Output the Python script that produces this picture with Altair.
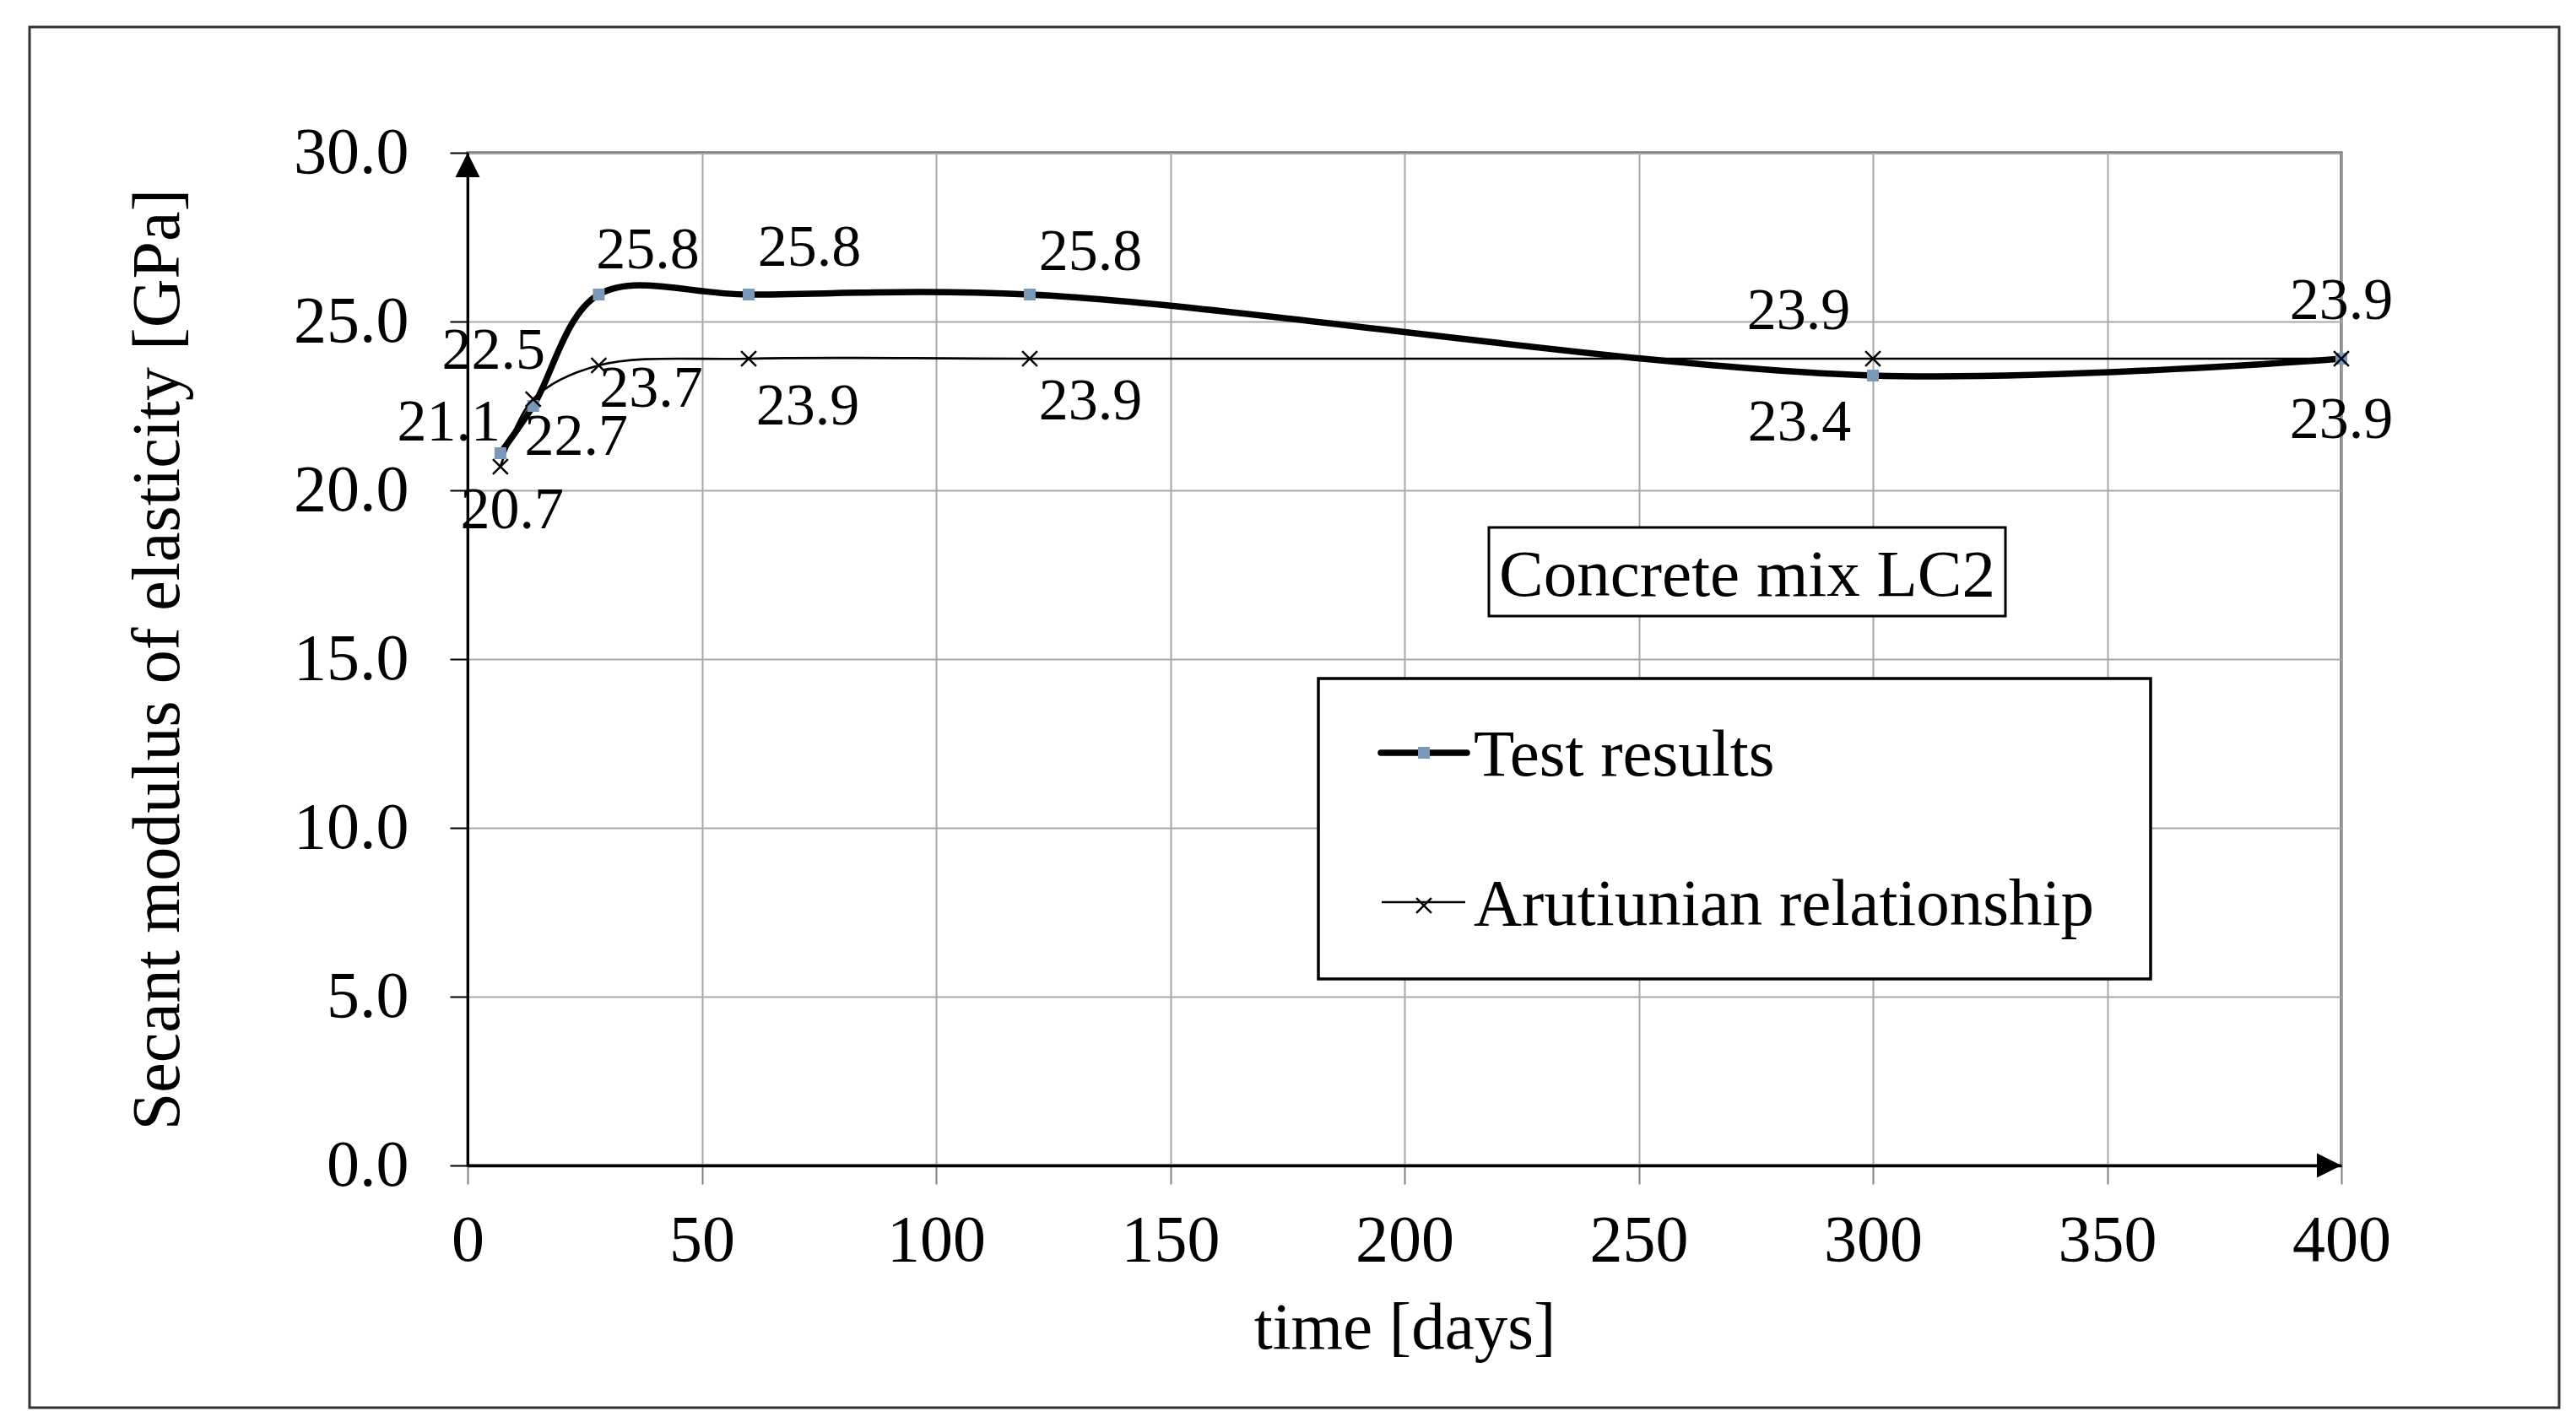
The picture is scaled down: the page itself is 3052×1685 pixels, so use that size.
import altair as alt
import pandas as pd

# ---------------- data ----------------
DAYS = [7, 14, 28, 60, 120, 300, 400]
TEST_RESULTS = [21.1, 22.5, 25.8, 25.8, 25.8, 23.4, 23.9]
ARUTIUNIAN = [20.7, 22.7, 23.7, 23.9, 23.9, 23.9, 23.9]
X_TICKS = [0, 50, 100, 150, 200, 250, 300, 350, 400]
Y_TICKS = [0, 5, 10, 15, 20, 25, 30]
SERIES_NAMES = ["Test results", "Arutiunian relationship"]
X_TITLE = "time [days]"
Y_TITLE = "Secant modulus of elasticity [GPa]"
ANNOTATION = "Concrete mix LC2"

# ---------------- style ----------------
FONT = "Liberation Serif"
W, H = 2220, 1200
STEEL = "#7b98b8"
GRID = "#a8a8a8"
# data-label offsets (dx, dy) in pixels, one per point
TEST_LABEL_OFFSETS = [(-61, -36), (-47, -65), (58, -52), (72, -55), (72, -50), (-87, 56), (0, -68)]
ARUT_LABEL_OFFSETS = [(14, 52), (51, 45), (62, 28), (70, 57), (72, 51), (-88, -56), (0, 73)]

test_df = pd.DataFrame({"day": DAYS, "value": TEST_RESULTS, "idx": list(range(len(DAYS)))})
arut_df = pd.DataFrame({"day": DAYS, "value": ARUTIUNIAN, "idx": list(range(len(DAYS)))})
up_arrow_df = pd.DataFrame({"day": [X_TICKS[0]], "value": [Y_TICKS[-1]]})
right_arrow_df = pd.DataFrame({"day": [X_TICKS[-1]], "value": [Y_TICKS[0]]})
one = pd.DataFrame({"k": [0]})

x_enc = alt.X(
    "day:Q",
    scale=alt.Scale(domain=[X_TICKS[0], X_TICKS[-1]], nice=False, zero=False),
    axis=alt.Axis(
        values=X_TICKS, format="d", title=X_TITLE,
        labelFont=FONT, labelFontSize=78, labelColor="black", labelPadding=28,
        labelFlush=False, labelOverlap=False,
        domainColor="black", domainWidth=3.5,
        tickColor="#808080", tickSize=22, tickWidth=2,
        grid=True, gridColor=GRID, gridWidth=2,
        titleFont=FONT, titleFontSize=79, titleFontWeight="normal", titleColor="black",
        titleX=1110, titleY=216, titleBaseline="alphabetic", titleAlign="center",
    ),
)
y_enc = alt.Y(
    "value:Q",
    scale=alt.Scale(domain=[Y_TICKS[0], Y_TICKS[-1]], nice=False, zero=False),
    axis=alt.Axis(
        values=Y_TICKS, format=".1f", title=Y_TITLE,
        labelFont=FONT, labelFontSize=78, labelColor="black", labelPadding=49,
        labelFlush=False, labelOverlap=False,
        domainColor="black", domainWidth=3,
        tickColor="black", tickSize=21, tickWidth=2,
        grid=True, gridColor=GRID, gridWidth=2,
        titleFont=FONT, titleFontSize=80, titleFontWeight="normal", titleColor="black",
        titleX=-343, titleY=600, titleAngle=270, titleBaseline="alphabetic", titleAlign="center",
    ),
)

layers = []

# outer frame
layers.append(
    alt.Chart(one).mark_rect(fillOpacity=0, stroke="#333333", strokeWidth=3).encode(
        x=alt.value(-519), x2=alt.value(2478), y=alt.value(-149), y2=alt.value(1487)
    )
)

# lines
layers.append(
    alt.Chart(arut_df).mark_line(interpolate="catmull-rom", color="black", strokeWidth=2.7).encode(x=x_enc, y=y_enc)
)
layers.append(
    alt.Chart(test_df).mark_line(interpolate="catmull-rom", color="black", strokeWidth=7.5).encode(x=x_enc, y=y_enc)
)
# markers
layers.append(
    alt.Chart(test_df).mark_point(shape="square", filled=True, size=196, color=STEEL, opacity=1, strokeWidth=0)
    .encode(x=x_enc, y=y_enc)
)
layers.append(
    alt.Chart(arut_df).mark_point(shape="M-1,-1L1,1M-1,1L1,-1", filled=False, size=320, color="black",
                                  opacity=1, strokeWidth=2.5)
    .encode(x=x_enc, y=y_enc)
)

# axis arrowheads
layers.append(
    alt.Chart(up_arrow_df).mark_point(shape="M0,0L-0.5,1L0.5,1Z", filled=True, size=3364, color="black",
                                      opacity=1, strokeWidth=0)
    .encode(x=x_enc, y=y_enc)
)
layers.append(
    alt.Chart(right_arrow_df).mark_point(shape="M0,0L-1,-0.5L-1,0.5Z", filled=True, size=3364, color="black",
                                         opacity=1, strokeWidth=0)
    .encode(x=x_enc, y=y_enc)
)

# data labels
for df, offsets in ((test_df, TEST_LABEL_OFFSETS), (arut_df, ARUT_LABEL_OFFSETS)):
    for i, (dx, dy) in enumerate(offsets):
        layers.append(
            alt.Chart(df).transform_filter(alt.datum.idx == i)
            .mark_text(font=FONT, fontSize=70, color="black", align="center", baseline="middle", dx=dx, dy=dy)
            .encode(x=x_enc, y=y_enc, text=alt.Text("value:Q", format=".1f"))
        )

# annotation box
layers.append(
    alt.Chart(one).mark_rect(fill="white", stroke="black", strokeWidth=3).encode(
        x=alt.value(1210), x2=alt.value(1822), y=alt.value(444), y2=alt.value(549)
    )
)
layers.append(
    alt.Chart(one).mark_text(text=ANNOTATION, font=FONT, fontSize=79, color="black",
                             align="center", baseline="alphabetic")
    .encode(x=alt.value(1516), y=alt.value(525))
)

# legend
layers.append(
    alt.Chart(one).mark_rect(fill="white", stroke="black", strokeWidth=3.5).encode(
        x=alt.value(1008), x2=alt.value(1994), y=alt.value(623), y2=alt.value(979)
    )
)
layers.append(
    alt.Chart(one).mark_rule(color="black", strokeWidth=7.5, strokeCap="round").encode(
        x=alt.value(1082), x2=alt.value(1184), y=alt.value(711)
    )
)
layers.append(
    alt.Chart(one).mark_point(shape="square", filled=True, size=196, color=STEEL, opacity=1, strokeWidth=0)
    .encode(x=alt.value(1133), y=alt.value(711))
)
layers.append(
    alt.Chart(one).mark_rule(color="black", strokeWidth=2.7).encode(
        x=alt.value(1083), x2=alt.value(1182), y=alt.value(888)
    )
)
layers.append(
    alt.Chart(one).mark_point(shape="M-1,-1L1,1M-1,1L1,-1", filled=False, size=320, color="black",
                              opacity=1, strokeWidth=2.5)
    .encode(x=alt.value(1133), y=alt.value(892))
)
layers.append(
    alt.Chart(one).mark_text(text=SERIES_NAMES[0], font=FONT, fontSize=79, color="black",
                             align="left", baseline="alphabetic")
    .encode(x=alt.value(1192), y=alt.value(738))
)
layers.append(
    alt.Chart(one).mark_text(text=SERIES_NAMES[1], font=FONT, fontSize=79, color="black",
                             align="left", baseline="alphabetic")
    .encode(x=alt.value(1192), y=alt.value(915))
)

chart = (
    alt.layer(*layers)
    .properties(
        width=W, height=H,
        padding={"left": 546, "top": 173, "right": 270, "bottom": 296},
        autosize=alt.AutoSizeParams(type="none"),
        background="white",
    )
    .configure_view(stroke="#404040", strokeWidth=3)
)

chart.save("out.html", embed_options={"renderer": "svg", "actions": False})
